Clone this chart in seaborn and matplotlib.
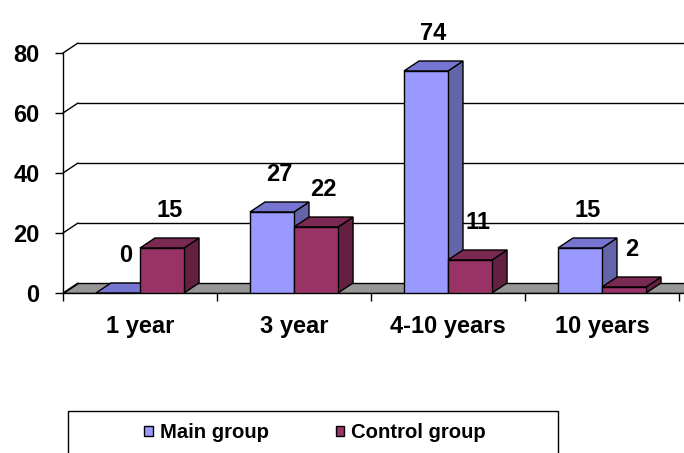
import matplotlib
matplotlib.use("Agg")
import matplotlib.pyplot as plt
from matplotlib.patches import Polygon, Rectangle
from matplotlib.ticker import FixedLocator
from matplotlib import font_manager
import seaborn as sns
import pandas as pd

categories = ["1 year", "3 year", "4-10 years", "10 years"]
groups = ["Main group", "Control group"]
main_values = [0, 27, 74, 15]
control_values = [15, 22, 11, 2]

front_colors = ["#9999FF", "#993366"]
top_colors = ["#7676D2", "#7A2952"]
side_colors = ["#6464A8", "#632040"]

df = pd.DataFrame({
    "category": categories * 2,
    "group": [groups[0]] * 4 + [groups[1]] * 4,
    "value": main_values + control_values,
})

sns.set_style("white")
plt.rcParams["font.family"] = ["Liberation Sans", "DejaVu Sans"]
plt.rcParams["font.weight"] = "bold"
plt.rcParams.update({"text.color": "black", "xtick.color": "black",
                     "ytick.color": "black", "axes.labelcolor": "black",
                     "axes.edgecolor": "black"})

FS = 17
installed = {f.name for f in font_manager.fontManager.ttflist}
legend_family = "Liberation Sans Narrow" if "Liberation Sans Narrow" in installed else "Liberation Sans"
legend_size = FS if legend_family == "Liberation Sans Narrow" else 14.6

W, H = 684, 453
fig = plt.figure(figsize=(W / 100, H / 100), dpi=100)
# axes: left edge at x=63px, y=0 at 293px, 3px per unit, 154px per category
ax = fig.add_axes([63 / W, (H - 293) / H, (W - 63) / W, 273 / H])
xmin = -0.5
xmax = xmin + (W - 63) / 154
ymax = 273 / 3
dx = 15 / 154   # depth offset in category units
dy = 10 / 3     # depth offset in value units

sns.barplot(data=df, x="category", y="value", hue="group", order=categories,
            hue_order=groups, palette=front_colors, width=0.572, saturation=1,
            edgecolor="black", linewidth=1, legend=False, ax=ax)
ax.set_xlim(xmin, xmax)
ax.set_ylim(0, ymax)

# back wall gridlines + diagonal stubs
for v in [0, 20, 40, 60, 80]:
    if v > 0:
        ax.plot([xmin + dx, xmax], [v + dy, v + dy], color="black", lw=1, zorder=0.5)
    ax.plot([xmin, xmin + dx], [v, v + dy], color="black", lw=1, zorder=0.5,
            clip_on=False)

# gray floor
ax.add_patch(Polygon([(xmin, 0), (xmax + 1, 0), (xmax + 1, dy), (xmin + dx, dy)],
                     closed=True, facecolor="#969696", edgecolor="black", lw=1,
                     zorder=1))

# 3d faces for each bar
bars = [p for p in ax.patches if isinstance(p, Rectangle)]
for i, p in enumerate(bars):
    s = 0 if i < len(categories) else 1
    x0, w, h = p.get_x(), p.get_width(), p.get_height()
    z = 3 + s
    p.set_zorder(z + 0.5)
    side = Polygon([(x0 + w, 0), (x0 + w + dx, dy), (x0 + w + dx, h + dy), (x0 + w, h)],
                   closed=True, facecolor=side_colors[s], edgecolor="black", lw=1, zorder=z)
    top = Polygon([(x0, h), (x0 + dx, h + dy), (x0 + w + dx, h + dy), (x0 + w, h)],
                  closed=True, facecolor=top_colors[s], edgecolor="black", lw=1, zorder=z)
    ax.add_patch(side)
    ax.add_patch(top)
    ax.annotate(f"{h:.0f}", (x0 + w / 2 + dx / 2, h + dy), xytext=(0, 19.5),
                textcoords="offset points", ha="center", va="center",
                fontsize=FS, fontweight="bold", zorder=6)

# axes styling
for sp in ["top", "right"]:
    ax.spines[sp].set_visible(False)
ax.spines["left"].set_bounds(0, 80)
ax.spines["left"].set_linewidth(1)
ax.spines["bottom"].set_linewidth(1)
ax.spines["bottom"].set_zorder(2)
ax.set_yticks([0, 20, 40, 60, 80])
ax.tick_params(axis="y", length=6, width=1, direction="out", left=True,
               labelsize=FS, pad=11)
ax.set_xticks(range(len(categories)))
ax.set_xticklabels(categories)
ax.xaxis.set_minor_locator(FixedLocator([-0.5, 0.5, 1.5, 2.5, 3.5]))
ax.tick_params(axis="x", which="major", length=0, labelsize=FS, pad=16)
ax.tick_params(axis="x", which="minor", length=6, width=1, direction="out", bottom=True)
ax.set_xlabel("")
ax.set_ylabel("")
for t in ax.get_xticklabels() + ax.get_yticklabels():
    t.set_fontweight("bold")

# legend box (runs past the bottom edge)
fig.patches.append(Rectangle((68 / W, -0.05), 490 / W, (H - 411) / H + 0.05,
                             transform=fig.transFigure, facecolor="white",
                             edgecolor="black", lw=1, zorder=0))
handles = [Rectangle((0, 0), 1, 1, facecolor=c, edgecolor="black", lw=1)
           for c in front_colors]
prop = {"family": legend_family, "weight": "bold", "size": legend_size}
fig.legend(handles, groups, loc="center", bbox_to_anchor=(315 / W, 1 - 433 / H),
           ncol=2, frameon=False, prop=prop,
           handlelength=0.4, handleheight=0.4, handletextpad=0.35, columnspacing=3.3)

fig.savefig("out.png", dpi=100)
